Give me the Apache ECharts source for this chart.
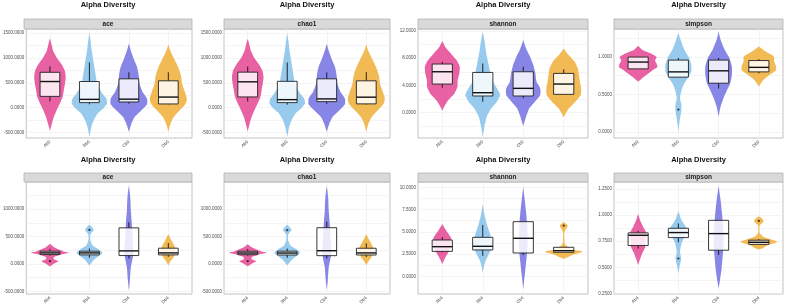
<!DOCTYPE html>
<html>
<head>
<meta charset="utf-8">
<script src="https://cdn.jsdelivr.net/npm/echarts@6/dist/echarts.min.js"></script>
<style>
  html, body { margin: 0; padding: 0; background: #fff; }
  #chart { width: 791px; height: 308px; }
</style>
</head>
<body>
<div id="chart"></div>
<script>
// groups and colours
const groupsTop = ["Ab0", "Bb0", "Cb0", "Db0"];
const groupsBottom = ["Ab4", "Bb4", "Cb4", "Db4"];
const groupColors = ["#E6549B", "#8EC5EA", "#7D7BE3", "#F1B445"];
const indexNames = ["ace", "chao1", "shannon", "simpson"];

// violin outlines: [value, half width in category units], bottom tip -> top tip
const aceTopViolin = [
  [[-467, 0], [-320, 0.05], [-187, 0.1], [-54, 0.17], [80, 0.25], [213, 0.32], [346, 0.35], [480, 0.38], [613, 0.4], [746, 0.375], [880, 0.29], [1013, 0.17], [1146, 0.08], [1279, 0.04], [1400, 0]],
  [[-587, 0], [-387, 0.05], [-254, 0.11], [-120, 0.21], [-20, 0.35], [80, 0.45], [180, 0.43], [280, 0.33], [413, 0.23], [546, 0.18], [746, 0.14], [946, 0.1], [1146, 0.06], [1346, 0.03], [1513, 0]],
  [[-487, 0], [-334, 0.06], [-187, 0.15], [-54, 0.32], [66, 0.46], [180, 0.46], [313, 0.35], [480, 0.27], [646, 0.25], [813, 0.21], [980, 0.125], [1146, 0.05], [1293, 0]],
  [[-487, 0], [-334, 0.05], [-187, 0.14], [-54, 0.29], [66, 0.43], [180, 0.47], [313, 0.42], [480, 0.35], [646, 0.32], [813, 0.25], [980, 0.15], [1146, 0.05], [1280, 0]]
];
const chao1TopViolin = [
  [[-480, 0], [-320, 0.05], [-187, 0.1], [-54, 0.17], [80, 0.25], [213, 0.32], [346, 0.35], [480, 0.38], [613, 0.4], [746, 0.37], [880, 0.28], [1013, 0.16], [1146, 0.08], [1279, 0.04], [1390, 0]],
  [[-590, 0], [-387, 0.05], [-254, 0.11], [-120, 0.21], [-20, 0.35], [80, 0.45], [180, 0.43], [280, 0.33], [413, 0.23], [546, 0.18], [746, 0.14], [946, 0.1], [1146, 0.06], [1346, 0.03], [1500, 0]],
  [[-490, 0], [-334, 0.06], [-187, 0.15], [-54, 0.32], [66, 0.46], [180, 0.46], [313, 0.35], [480, 0.27], [646, 0.25], [813, 0.21], [980, 0.125], [1146, 0.05], [1290, 0]],
  [[-490, 0], [-334, 0.05], [-187, 0.14], [-54, 0.29], [66, 0.43], [180, 0.47], [313, 0.42], [480, 0.35], [646, 0.32], [813, 0.25], [980, 0.15], [1146, 0.05], [1280, 0]]
];
const shannonTopViolin = [
  [[0.3, 0], [1.12, 0.07], [1.85, 0.15], [2.83, 0.3], [3.81, 0.375], [4.78, 0.38], [5.76, 0.42], [6.74, 0.43], [7.71, 0.35], [8.69, 0.21], [9.67, 0.07], [10.5, 0]],
  [[-3.5, 0], [-2.04, 0.04], [-0.59, 0.1], [0.64, 0.21], [1.62, 0.35], [2.59, 0.43], [3.57, 0.35], [4.78, 0.23], [6.25, 0.17], [7.71, 0.12], [9.18, 0.075], [10.64, 0.04], [11.86, 0]],
  [[-1.95, 0], [-0.59, 0.07], [0.64, 0.15], [1.62, 0.29], [2.59, 0.42], [3.57, 0.42], [4.54, 0.33], [5.76, 0.3], [6.98, 0.25], [8.2, 0.17], [9.42, 0.07], [10.64, 0]],
  [[-0.68, 0], [-0.1, 0.05], [0.64, 0.13], [1.62, 0.29], [2.59, 0.42], [3.57, 0.43], [4.54, 0.4], [5.52, 0.375], [6.49, 0.35], [7.47, 0.27], [8.44, 0.12], [9.42, 0]]
];
const simpsonTopViolin = [
  [[0.672, 0], [0.717, 0.1], [0.761, 0.21], [0.818, 0.35], [0.863, 0.48], [0.907, 0.46], [0.951, 0.42], [0.996, 0.46], [1.04, 0.33], [1.093, 0.1], [1.146, 0]],
  [[0.008, 0], [0.163, 0.035], [0.274, 0.07], [0.362, 0.075], [0.451, 0.04], [0.539, 0.07], [0.628, 0.13], [0.717, 0.23], [0.805, 0.32], [0.893, 0.32], [0.982, 0.27], [1.093, 0.15], [1.203, 0.07], [1.314, 0]],
  [[0.207, 0], [0.34, 0.05], [0.451, 0.12], [0.561, 0.21], [0.65, 0.29], [0.761, 0.33], [0.871, 0.33], [0.982, 0.27], [1.093, 0.15], [1.225, 0.05], [1.336, 0]],
  [[0.606, 0], [0.695, 0.12], [0.761, 0.27], [0.818, 0.42], [0.872, 0.43], [0.938, 0.38], [1.004, 0.375], [1.071, 0.17], [1.137, 0]]
];
const aceBottomViolin = [
  [[-49, 0], [0, 0.09], [49, 0.21], [85, 0.1], [122, 0.1], [170, 0.29], [201, 0.48], [231, 0.33], [292, 0.125], [365, 0]],
  [[-30, 0], [61, 0.1], [128, 0.21], [201, 0.33], [274, 0.21], [334, 0.08], [426, 0.025], [535, 0.025], [580, 0.07], [620, 0.11], [665, 0.07], [717, 0]],
  [[-487, 0], [-304, 0.025], [-61, 0.05], [122, 0.1], [243, 0.12], [426, 0.1], [608, 0.085], [790, 0.07], [973, 0.05], [1217, 0.035], [1430, 0]],
  [[-30, 0], [30, 0.04], [110, 0.12], [183, 0.18], [243, 0.2], [334, 0.15], [426, 0.08], [547, 0]]
];
const chao1BottomViolin = [
  [[-45, 0], [0, 0.09], [49, 0.21], [85, 0.1], [122, 0.1], [170, 0.29], [201, 0.48], [231, 0.33], [292, 0.125], [360, 0]],
  [[-28, 0], [61, 0.1], [128, 0.21], [201, 0.33], [274, 0.21], [334, 0.08], [426, 0.025], [535, 0.025], [580, 0.07], [620, 0.11], [665, 0.07], [715, 0]],
  [[-480, 0], [-304, 0.025], [-61, 0.05], [122, 0.1], [243, 0.12], [426, 0.1], [608, 0.085], [790, 0.07], [973, 0.05], [1217, 0.035], [1420, 0]],
  [[-28, 0], [30, 0.04], [110, 0.12], [183, 0.18], [243, 0.2], [334, 0.15], [426, 0.08], [540, 0]]
];
const shannonBottomViolin = [
  [[1.38, 0], [1.9, 0.05], [2.32, 0.1], [2.88, 0.17], [3.63, 0.23], [4.38, 0.21], [5.12, 0.1], [5.88, 0]],
  [[0.45, 0], [1.1, 0.03], [1.75, 0.07], [2.4, 0.14], [2.88, 0.19], [3.63, 0.23], [4.75, 0.18], [5.88, 0.1], [7.0, 0.04], [8.12, 0]],
  [[-1.43, 0], [0.26, 0.04], [1.75, 0.075], [2.88, 0.1], [4.0, 0.11], [5.5, 0.1], [7.0, 0.075], [8.5, 0.04], [10.0, 0]],
  [[1.95, 0], [2.13, 0.1], [2.39, 0.21], [2.77, 0.46], [3.0, 0.2], [3.26, 0.12], [3.6, 0.03], [4.9, 0.015], [5.3, 0.05], [5.69, 0.1], [6.1, 0]]
];
const simpsonBottomViolin = [
  [[0.52, 0], [0.57, 0.04], [0.633, 0.1], [0.697, 0.18], [0.754, 0.18], [0.823, 0.21], [0.887, 0.125], [0.95, 0.05], [1.014, 0]],
  [[0.44, 0], [0.52, 0.035], [0.585, 0.07], [0.65, 0.04], [0.73, 0.08], [0.807, 0.17], [0.87, 0.21], [0.95, 0.08], [1.04, 0]],
  [[0.3, 0], [0.38, 0.035], [0.474, 0.07], [0.6, 0.1], [0.73, 0.125], [0.855, 0.12], [1.01, 0.085], [1.14, 0.05], [1.28, 0]],
  [[0.67, 0], [0.68, 0.08], [0.71, 0.21], [0.744, 0.46], [0.79, 0.125], [0.83, 0.02], [0.9, 0.02], [0.92, 0.07], [0.944, 0.12], [0.97, 0.07], [0.99, 0]]
];

// box stats: [lower whisker, Q1, median, Q3, upper whisker]
const aceTopBox = [[126, 226, 526, 712, 832], [66, 100, 166, 526, 912], [80, 113, 170, 580, 712], [66, 73, 212, 540, 712]];
const chao1TopBox = [[120, 215, 520, 715, 830], [60, 100, 160, 530, 910], [75, 120, 175, 580, 710], [60, 75, 210, 540, 715]];
const shannonTopBox = [[3.66, 4.2, 6.0, 7.13, 7.45], [1.6, 2.45, 2.93, 5.9, 7.2], [2.1, 2.45, 3.57, 6.0, 6.74], [2.6, 2.69, 4.2, 5.76, 6.35]];
const simpsonTopBox = [[0.84, 0.84, 0.93, 0.996, 1.0], [0.73, 0.73, 0.8, 0.956, 0.985], [0.58, 0.65, 0.814, 0.956, 0.985], [0.78, 0.8, 0.86, 0.95, 0.97]];
const aceBottomBox = [[152, 170, 200, 231, 274], [110, 164, 200, 231, 280], [100, 152, 237, 657, 760], [128, 164, 200, 286, 380]];
const chao1BottomBox = [[150, 168, 198, 230, 272], [110, 162, 198, 232, 280], [100, 150, 240, 660, 770], [125, 162, 200, 285, 375]];
const shannonBottomBox = [[2.7, 2.8, 3.33, 4.08, 4.4], [2.3, 2.96, 3.37, 4.38, 5.77], [2.4, 2.62, 4.27, 6.14, 6.14], [2.7, 2.7, 2.88, 3.26, 3.3]];
const simpsonBottomBox = [[0.68, 0.709, 0.807, 0.83, 0.85], [0.74, 0.785, 0.833, 0.874, 0.92], [0.62, 0.664, 0.823, 0.95, 0.95], [0.72, 0.72, 0.74, 0.76, 0.77]];

// outliers: [group number, value]
const simpsonTopOut = [[2, 0.3]];
const aceBottomOut = [[1, 49], [2, 620]];
const chao1BottomOut = [[1, 50], [2, 615]];
const shannonBottomOut = [[4, 5.69]];
const simpsonBottomOut = [[2, 0.585], [4, 0.944]];

// y tick labels and grid lines
const aceTopTicks = [-500, 0, 500, 1000, 1500];
const aceTopMinor = [-250, 250, 750, 1250];
const shannonTopTicks = [0, 4, 8, 12];
const shannonTopMinor = [-2, 2, 6, 10];
const simpsonTopTicks = [0, 0.5, 1];
const simpsonTopMinor = [0.25, 0.75, 1.25];
const aceBottomTicks = [-500, 0, 500, 1000];
const aceBottomMinor = [-250, 250, 750, 1250];
const shannonBottomTicks = [0, 2.5, 5, 7.5, 10];
const shannonBottomMinor = [1.25, 3.75, 6.25, 8.75];
const simpsonBottomTicks = [0.25, 0.5, 0.75, 1, 1.25];
const simpsonBottomMinor = [0.375, 0.625, 0.875, 1.125];

const yRanges = [[-614, 1586], [-614, 1586], [-3.7, 12.26], [-0.076, 1.368], [-549, 1493], [-549, 1493], [-1.99, 10.6], [0.245, 1.317]];

const panels = [
  { groups: groupsTop, violin: aceTopViolin, box: aceTopBox, out: [], ticks: aceTopTicks, minor: aceTopMinor },
  { groups: groupsTop, violin: chao1TopViolin, box: chao1TopBox, out: [], ticks: aceTopTicks, minor: aceTopMinor },
  { groups: groupsTop, violin: shannonTopViolin, box: shannonTopBox, out: [], ticks: shannonTopTicks, minor: shannonTopMinor },
  { groups: groupsTop, violin: simpsonTopViolin, box: simpsonTopBox, out: simpsonTopOut, ticks: simpsonTopTicks, minor: simpsonTopMinor },
  { groups: groupsBottom, violin: aceBottomViolin, box: aceBottomBox, out: aceBottomOut, ticks: aceBottomTicks, minor: aceBottomMinor },
  { groups: groupsBottom, violin: chao1BottomViolin, box: chao1BottomBox, out: chao1BottomOut, ticks: aceBottomTicks, minor: aceBottomMinor },
  { groups: groupsBottom, violin: shannonBottomViolin, box: shannonBottomBox, out: shannonBottomOut, ticks: shannonBottomTicks, minor: shannonBottomMinor },
  { groups: groupsBottom, violin: simpsonBottomViolin, box: simpsonBottomBox, out: simpsonBottomOut, ticks: simpsonBottomTicks, minor: simpsonBottomMinor }
];

// layout of the 2x4 facet grid
const colLeft = [24, 224, 418, 614];
const colWidth = [168, 166, 170, 169];
const rowTop = [29, 182];
const rowHeight = [109, 112];
const stripTop = [19, 173];
const titleY = [5, 160];
const FONT = '"Liberation Sans", Arial, sans-serif';

const chart = echarts.init(document.getElementById("chart"));

const grid = [], xAxis = [], yAxis = [], series = [], graphic = [];

panels.forEach((p, i) => {
  const col = i % 4, row = Math.floor(i / 4);
  const left = colLeft[col], width = colWidth[col];
  grid.push({
    left: left, top: rowTop[row], width: width, height: rowHeight[row],
    show: true, backgroundColor: "#fff", borderColor: "#b3b3b3", borderWidth: 0.8
  });
  xAxis.push({
    type: "value", gridIndex: i, min: 0.4, max: 4.6,
    axisLine: { show: false },
    axisTick: { show: false, customValues: [1, 2, 3, 4] },
    axisLabel: {
      customValues: [1, 2, 3, 4], rotate: 45, margin: 3,
      fontSize: 4.5, fontFamily: FONT, color: "#4d4d4d",
      formatter: (v) => p.groups[Math.round(v) - 1]
    },
    splitLine: { show: true, lineStyle: { color: "#ececec", width: 0.6 } }
  });
  yAxis.push({
    type: "value", gridIndex: i, min: yRanges[i][0], max: yRanges[i][1],
    axisLine: { show: false },
    axisTick: { show: false, customValues: p.ticks.concat(p.minor) },
    axisLabel: {
      customValues: p.ticks, margin: 2,
      fontSize: 4.5, fontFamily: FONT, color: "#4d4d4d",
      formatter: (v) => v.toFixed(4)
    },
    splitLine: { show: true, lineStyle: { color: "#ececec", width: 0.6 } }
  });

  series.push({
    type: "custom", xAxisIndex: i, yAxisIndex: i,
    encode: { x: 0, y: 1 },
    data: p.box.map((b, gi) => [gi + 1, b[2]]),
    clip: true,
    renderItem: function (params, api) {
      const gi = api.value(0);
      const prof = p.violin[params.dataIndex];
      const b = p.box[params.dataIndex];
      const color = groupColors[params.dataIndex];
      const pts = prof.map((d) => api.coord([gi + d[1], d[0]]))
        .concat(prof.slice().reverse().map((d) => api.coord([gi - d[1], d[0]])));
      const tl = api.coord([gi - 0.25, b[3]]);
      const br = api.coord([gi + 0.25, b[1]]);
      const mid = api.coord([gi, b[2]]);
      const wLo = api.coord([gi, b[0]]);
      const wHi = api.coord([gi, b[4]]);
      const line = { stroke: "#111", lineWidth: 0.9 };
      return {
        type: "group",
        children: [
          { type: "polygon", shape: { points: pts, smooth: 0.2 }, style: { fill: color, opacity: 0.92 } },
          { type: "line", shape: { x1: wHi[0], y1: wHi[1], x2: wHi[0], y2: tl[1] }, style: line },
          { type: "line", shape: { x1: wLo[0], y1: br[1], x2: wLo[0], y2: wLo[1] }, style: line },
          { type: "rect", shape: { x: tl[0], y: tl[1], width: br[0] - tl[0], height: br[1] - tl[1] },
            style: { fill: "rgba(255,255,255,0.84)", stroke: "#222", lineWidth: 0.9 } },
          { type: "line", shape: { x1: tl[0], y1: mid[1], x2: br[0], y2: mid[1] }, style: { stroke: "#111", lineWidth: 1.4 } }
        ]
      };
    }
  });
  if (p.out.length) {
    series.push({
      type: "scatter", xAxisIndex: i, yAxisIndex: i,
      data: p.out, symbolSize: 2.2, itemStyle: { color: "#111" }, z: 5
    });
  }

  // facet title and strip
  graphic.push({
    type: "text", x: left + width / 2, y: titleY[row],
    style: { text: "Alpha Diversity", font: "bold 7.5px " + FONT, fill: "#111", align: "center", verticalAlign: "middle" }
  });
  graphic.push({
    type: "rect", shape: { x: left, y: stripTop[row], width: width, height: rowTop[row] - stripTop[row] },
    style: { fill: "#d9d9d9", stroke: "#b3b3b3", lineWidth: 0.8 }
  });
  graphic.push({
    type: "text", x: left + width / 2, y: (stripTop[row] + rowTop[row]) / 2,
    style: { text: indexNames[col], font: "bold 6.5px " + FONT, fill: "#1a1a1a", align: "center", verticalAlign: "middle" }
  });
});

chart.setOption({
  animation: false,
  grid: grid,
  xAxis: xAxis,
  yAxis: yAxis,
  series: series,
  graphic: graphic
});
</script>
</body>
</html>
